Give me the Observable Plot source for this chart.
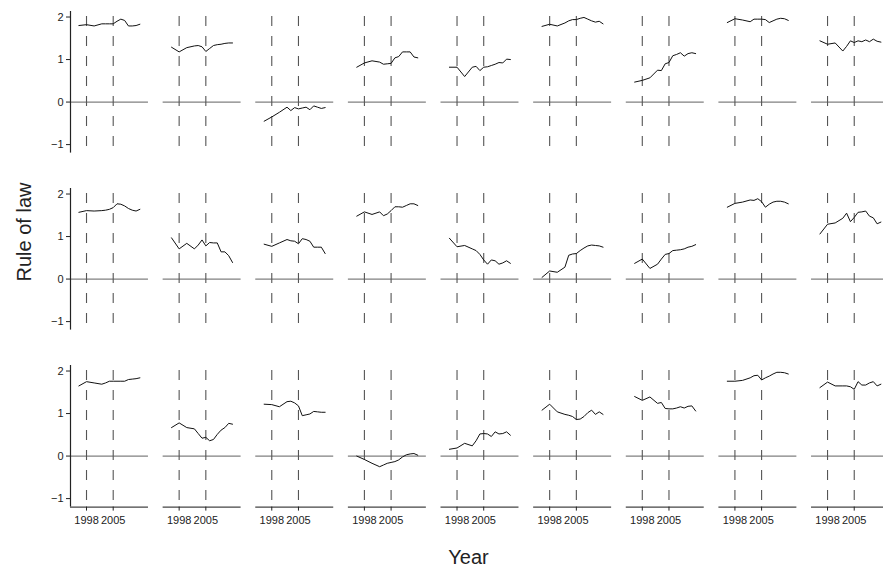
<!DOCTYPE html>
<html><head><meta charset="utf-8">
<script src="https://cdn.jsdelivr.net/npm/d3@7"></script>
<script src="https://cdn.jsdelivr.net/npm/@observablehq/plot@0.6"></script>
<style>
html,body{margin:0;padding:0;background:#fff;overflow:hidden;}
#wrap{position:relative;width:883px;height:568px;overflow:hidden;background:#fff;}
#wrap svg.labels{position:absolute;left:0;top:0;}
</style></head><body><div id="wrap"></div>
<script>
const years = [1996,1998,2000,2002,2003,2004,2005,2006,2007,2008,2009,2010,2011,2012];
const row1 = [
  [1.80,1.82,1.79,1.84,1.84,1.84,1.84,1.90,1.95,1.92,1.79,1.79,1.80,1.83],
  [1.29,1.18,1.28,1.32,1.33,1.30,1.19,1.26,1.33,1.35,1.36,1.38,1.39,1.39],
  [-0.45,-0.35,-0.24,-0.12,-0.20,-0.13,-0.16,-0.14,-0.12,-0.18,-0.09,-0.12,-0.15,-0.13],
  [0.82,0.92,0.97,0.94,0.89,0.90,0.91,1.04,1.07,1.18,1.18,1.18,1.06,1.04],
  [0.82,0.82,0.60,0.82,0.84,0.74,0.82,0.83,0.86,0.89,0.93,0.92,1.01,1.00],
  [1.78,1.83,1.79,1.86,1.91,1.94,1.94,1.97,1.99,1.95,1.91,1.88,1.90,1.84],
  [0.47,0.51,0.57,0.75,0.74,0.90,0.93,1.09,1.12,1.16,1.08,1.14,1.16,1.14],
  [1.87,1.96,1.93,1.89,1.95,1.95,1.95,1.94,1.87,1.91,1.95,1.97,1.96,1.92],
  [1.44,1.36,1.39,1.20,1.31,1.44,1.40,1.44,1.42,1.46,1.42,1.48,1.43,1.41]
];
const row2 = [
  [1.57,1.61,1.60,1.61,1.62,1.64,1.68,1.77,1.76,1.72,1.66,1.62,1.60,1.64],
  [0.97,0.71,0.84,0.71,0.80,0.92,0.78,0.86,0.85,0.85,0.64,0.64,0.55,0.39],
  [0.82,0.77,0.85,0.93,0.90,0.89,0.83,0.95,0.93,0.89,0.75,0.75,0.75,0.60],
  [1.48,1.58,1.52,1.58,1.49,1.53,1.61,1.70,1.70,1.69,1.73,1.77,1.77,1.73],
  [0.96,0.76,0.79,0.71,0.67,0.58,0.45,0.35,0.45,0.43,0.35,0.38,0.43,0.37],
  [0.04,0.19,0.16,0.28,0.56,0.59,0.60,0.67,0.73,0.78,0.80,0.79,0.78,0.75],
  [0.37,0.47,0.25,0.35,0.47,0.58,0.60,0.67,0.68,0.69,0.71,0.75,0.77,0.81],
  [1.69,1.78,1.81,1.86,1.85,1.89,1.82,1.69,1.76,1.81,1.83,1.83,1.81,1.77],
  [1.06,1.29,1.32,1.43,1.55,1.35,1.45,1.57,1.58,1.60,1.48,1.44,1.30,1.34]
];
const row3 = [
  [1.65,1.75,1.72,1.69,1.72,1.76,1.76,1.76,1.76,1.76,1.80,1.81,1.82,1.84],
  [0.67,0.78,0.67,0.64,0.53,0.42,0.44,0.36,0.39,0.51,0.61,0.67,0.77,0.75],
  [1.22,1.21,1.16,1.28,1.29,1.25,1.18,0.95,0.97,0.99,1.05,1.04,1.03,1.03],
  [0.00,-0.08,-0.17,-0.25,-0.21,-0.17,-0.15,-0.13,-0.09,-0.02,0.03,0.05,0.06,0.02],
  [0.16,0.19,0.30,0.24,0.36,0.52,0.53,0.52,0.46,0.57,0.52,0.53,0.57,0.49],
  [1.08,1.22,1.04,0.98,0.96,0.93,0.86,0.87,0.93,1.02,1.08,0.98,1.04,0.98],
  [1.40,1.31,1.39,1.24,1.26,1.12,1.11,1.11,1.13,1.16,1.13,1.17,1.18,1.06],
  [1.76,1.76,1.78,1.84,1.89,1.90,1.79,1.84,1.88,1.93,1.97,1.97,1.96,1.93],
  [1.61,1.74,1.65,1.65,1.65,1.63,1.57,1.75,1.67,1.67,1.72,1.75,1.65,1.69]
];
const refYears = [1998, 2005];
const xTicks = [1998, 2005];
const yTicks = [-1, 0, 1, 2];
const xLabel = "Year";
const yLabel = "Rule of law";

const xDomain = [1993.8, 2014.25];
const yDomain = [-1.2, 2.13];

const rows = [row1, row2, row3];
const data = rows.flatMap((row, r) => row.flatMap((vals, c) =>
  vals.map((v, i) => ({row: r, col: c, year: years[i], value: v}))));

const plot = Plot.plot({
  width: 889, height: 568,
  marginTop: 11, marginBottom: 61.4, marginLeft: 70, marginRight: 0,
  style: {fontFamily: "'Liberation Sans', Arial, sans-serif", fontSize: "11px", color: "#222", background: "white", maxWidth: "none", overflow: "visible"},
  fx: {axis: null, paddingInner: 0.1583, paddingOuter: 0, round: false, domain: d3.range(9)},
  fy: {axis: null, paddingInner: 0.2, paddingOuter: 0, round: false, domain: [0, 1, 2]},
  x: {domain: xDomain},
  y: {domain: yDomain},
  marks: [
    Plot.ruleY([0], {stroke: "#808080", strokeWidth: 1.2}),
    Plot.ruleX(refYears, {stroke: "#555", strokeWidth: 1.1, strokeDasharray: "10,10", strokeDashoffset: 15}),
    Plot.line(data, {x: "year", y: "value", fx: "col", fy: "row", stroke: "#111", strokeWidth: 1}),
    Plot.ruleX([xDomain[0]], {facetAnchor: "left", stroke: "#222", strokeWidth: 1.2}),
    Plot.ruleY([yDomain[0]], {facetAnchor: "bottom", stroke: "#444", strokeWidth: 1.3}),
    Plot.axisY(yTicks, {tickSize: 4, tickPadding: 3, label: null, color: "#222"}),
    Plot.axisX(xTicks, {tickSize: 4, tickPadding: 5, label: null, tickFormat: "d", color: "#222"})
  ]
});

const wrap = document.getElementById("wrap");
wrap.appendChild(plot);

const ns = "http://www.w3.org/2000/svg";
const lab = document.createElementNS(ns, "svg");
lab.setAttribute("class", "labels");
lab.setAttribute("width", 883);
lab.setAttribute("height", 568);
lab.style.fontFamily = "'Liberation Sans', Arial, sans-serif";
const t1 = document.createElementNS(ns, "text");
t1.setAttribute("x", 468.5); t1.setAttribute("y", 564);
t1.setAttribute("text-anchor", "middle"); t1.setAttribute("font-size", 20); t1.setAttribute("fill", "#222");
t1.textContent = xLabel;
const t2 = document.createElementNS(ns, "text");
t2.setAttribute("transform", "translate(31,232) rotate(-90)");
t2.setAttribute("text-anchor", "middle"); t2.setAttribute("font-size", 20); t2.setAttribute("fill", "#222");
t2.textContent = yLabel;
lab.appendChild(t1); lab.appendChild(t2);
wrap.appendChild(lab);
</script>
</body></html>
